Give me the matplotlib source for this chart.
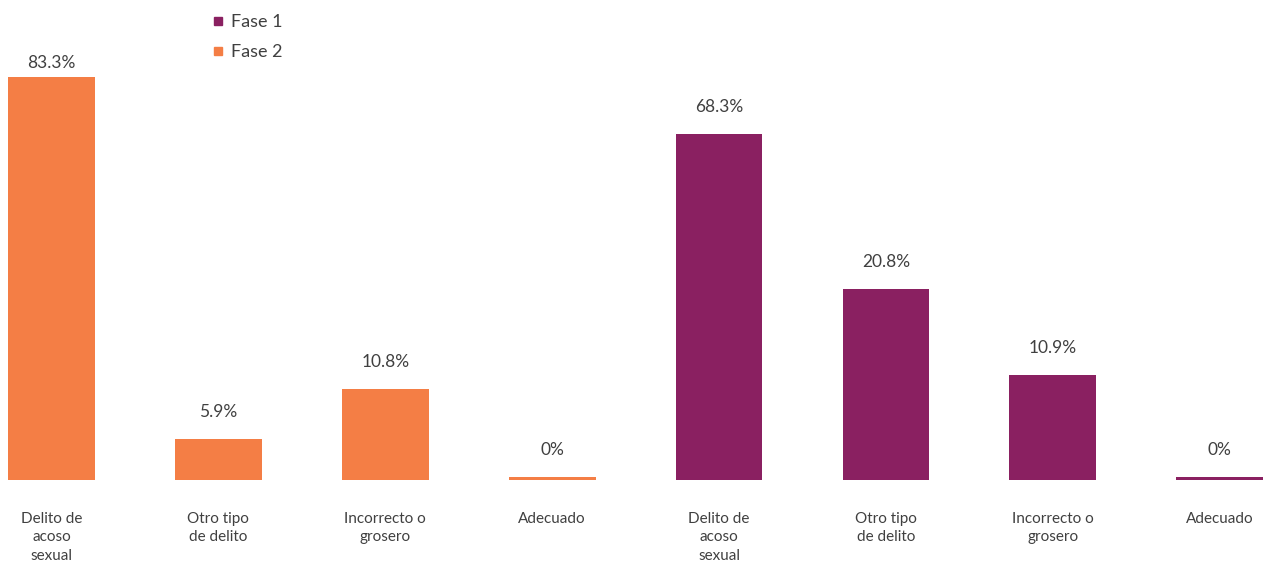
import matplotlib.pyplot as plt
from matplotlib.lines import Line2D

# Categories and values (two phases side by side)
categories = ["Delito de\nacoso\nsexual", "Otro tipo\nde delito", "Incorrecto o\ngrosero", "Adecuado",
              "Delito de\nacoso\nsexual", "Otro tipo\nde delito", "Incorrecto o\ngrosero", "Adecuado"]
phase = ["Fase 2", "Fase 2", "Fase 2", "Fase 2", "Fase 1", "Fase 1", "Fase 1", "Fase 1"]
value_labels = ["83.3%", "5.9%", "10.8%", "0%", "68.3%", "20.8%", "10.9%", "0%"]
# bar heights as drawn in the reference (it does not use one common scale)
bar_heights = [83.3, 8.5, 18.8, 0.6, 71.5, 39.5, 21.7, 0.6]

colors = {"Fase 1": "#8A2061", "Fase 2": "#F47E45"}
text_color = "#404040"

plt.rcParams['font.family'] = ['Lato', 'DejaVu Sans']

fig = plt.figure(figsize=(12.63, 5.62), dpi=100)
ax = fig.add_axes([0, 82 / 562, 1, 480 / 562])

x = list(range(len(categories)))
ax.bar(x, bar_heights, width=0.52, color=[colors[p] for p in phase])

ymax = 480 / 4.838
ax.set_ylim(0, ymax)
ax.set_xlim(-0.309, 7.26)

# value labels above the bars
for xi, h, lab in zip(x, bar_heights, value_labels):
    y = min(h + 5.6, ymax - 63 / 4.838)
    ax.text(xi, y, lab, ha='center', va='center', fontsize=12.5, color=text_color)

ax.set_xticks(x)
ax.set_xticklabels(categories, fontsize=11, color=text_color, linespacing=1.4)
ax.tick_params(axis='x', length=0, pad=23)
ax.set_yticks([])
for s in ax.spines.values():
    s.set_visible(False)

handles = [Line2D([], [], marker='s', linestyle='', markersize=6, color=colors["Fase 1"]),
           Line2D([], [], marker='s', linestyle='', markersize=6, color=colors["Fase 2"])]
fig.legend(handles, ["Fase 1", "Fase 2"], loc='upper left', bbox_to_anchor=(195 / 1263, 1.0 + 2 / 562),
           frameon=False, fontsize=13, handlelength=0.8, handletextpad=0.3, labelspacing=0.78,
           labelcolor=text_color)

fig.savefig("out.png", dpi=100)
